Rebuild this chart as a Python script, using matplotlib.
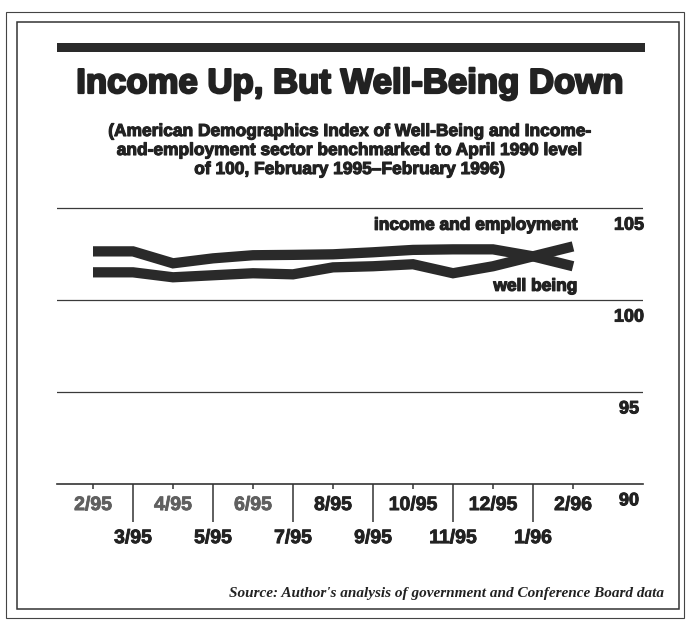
import matplotlib
matplotlib.use("Agg")
import matplotlib.pyplot as plt
import matplotlib.patheffects as pe
from matplotlib.patches import Rectangle

# monthly index values, Feb 1995 - Feb 1996
months = ['2/95', '3/95', '4/95', '5/95', '6/95', '7/95', '8/95',
          '9/95', '10/95', '11/95', '12/95', '1/96', '2/96']
well_being = [102.66, 102.66, 102.01, 102.28, 102.45, 102.47, 102.50,
              102.61, 102.74, 102.77, 102.77, 102.39, 101.85]
income = [101.52, 101.52, 101.25, 101.36, 101.47, 101.41, 101.79,
          101.85, 101.96, 101.47, 101.85, 102.39, 102.93]
grid_levels = [95, 100, 105]
value_labels = [90, 95, 100, 105]

W, H = 686, 624
ink = '#2a2a2a'
txt = '#222222'
sans = ['Liberation Sans', 'DejaVu Sans']


def fx(x):
    return x / W


def fy(y):
    return 1 - y / H


def heavy(w, c=txt):
    # thicken glyphs a little, newsprint style
    return [pe.withStroke(linewidth=w, foreground=c)]


fig = plt.figure(figsize=(W / 100, H / 100), dpi=100)
fig.patch.set_facecolor('white')

# double frame round the whole graphic
fig.patches.append(Rectangle((fx(6), fy(618)), fx(678), 606 / H,
                             transform=fig.transFigure, fill=False,
                             edgecolor='#444444', linewidth=0.8))
fig.patches.append(Rectangle((fx(17), fy(609)), fx(662), 587 / H,
                             transform=fig.transFigure, fill=False,
                             edgecolor='#333333', linewidth=1.1))

# heavy rule above the title
fig.patches.append(Rectangle((fx(57), fy(52)), fx(588), 9 / H,
                             transform=fig.transFigure, color=ink, linewidth=0))

fig.text(fx(350), fy(93), 'Income Up, But Well-Being Down',
         ha='center', va='baseline', fontsize=25, fontweight='bold',
         family=sans, color=txt, path_effects=heavy(1.6))

subtitle = ['(American Demographics Index of Well-Being and Income-',
            'and-employment sector benchmarked to April 1990 level',
            'of 100, February 1995\u2013February 1996)']
for k, line in enumerate(subtitle):
    fig.text(fx(350), fy(136 + 19 * k), line, ha='center', va='baseline',
             fontsize=12.5, fontweight='bold', family=sans, color=txt,
             path_effects=heavy(0.8))

fig.text(fx(664), fy(597),
         "Source: Author's analysis of government and Conference Board data",
         ha='right', va='baseline', fontsize=11, fontstyle='italic',
         fontweight='bold', family=['Liberation Serif', 'DejaVu Serif'],
         color=txt)

ax = fig.add_axes([fx(57), 1 - 484 / H, fx(586), 294 / H])
x = list(range(len(months)))
ax.set_xlim(-0.9, 13.75)
ax.set_ylim(90, 106)

for lev in grid_levels:
    ax.axhline(lev, color='#3a3a3a', linewidth=0.9, zorder=1)

ax.plot(x, well_being, color=ink, linewidth=7.4, solid_capstyle='butt',
        solid_joinstyle='miter', zorder=3)
ax.plot(x, income, color=ink, linewidth=7.4, solid_capstyle='butt',
        solid_joinstyle='miter', zorder=3)

ax.text(12.12, 104.08, 'income and employment', ha='right', va='center',
        fontsize=12.5, fontweight='bold', family=sans, color=txt,
        path_effects=heavy(0.9))
ax.text(12.12, 100.76, 'well being', ha='right', va='center',
        fontsize=12.5, fontweight='bold', family=sans, color=txt,
        path_effects=heavy(0.9))

for v in value_labels:
    ax.annotate(str(v), xy=(13.4, v), xytext=(0, -6), textcoords='offset points',
                ha='center', va='top', fontsize=13, fontweight='bold',
                family=sans, color=txt, path_effects=heavy(0.7))

for side in ['top', 'left', 'right']:
    ax.spines[side].set_visible(False)
ax.spines['bottom'].set_color('#333333')
ax.spines['bottom'].set_linewidth(1.2)

odd = x[1::2]
even = x[0::2]
ax.set_xticks(odd)
ax.set_xticklabels([months[i] for i in odd])
ax.set_xticks(even, minor=True)
ax.set_xticklabels([months[i] for i in even], minor=True)
ax.set_yticks([])
ax.tick_params(axis='x', which='major', length=27.4, width=1.1, color='#333333',
               pad=5.8, labelsize=14)
ax.tick_params(axis='x', which='minor', length=3.6, width=1.1, color='#333333',
               pad=5.8, labelsize=14)
for lab in ax.get_xticklabels() + ax.get_xticklabels(minor=True):
    lab.set_fontweight('bold')
    lab.set_family(sans)
    lab.set_color(txt)
    lab.set_path_effects(heavy(0.6))
for lab in ax.get_xticklabels(minor=True)[:3]:
    lab.set_color('#606060')
    lab.set_path_effects(heavy(0.6, '#606060'))
ax.set_facecolor('none')

fig.savefig('out.png', dpi=100, facecolor='white')
